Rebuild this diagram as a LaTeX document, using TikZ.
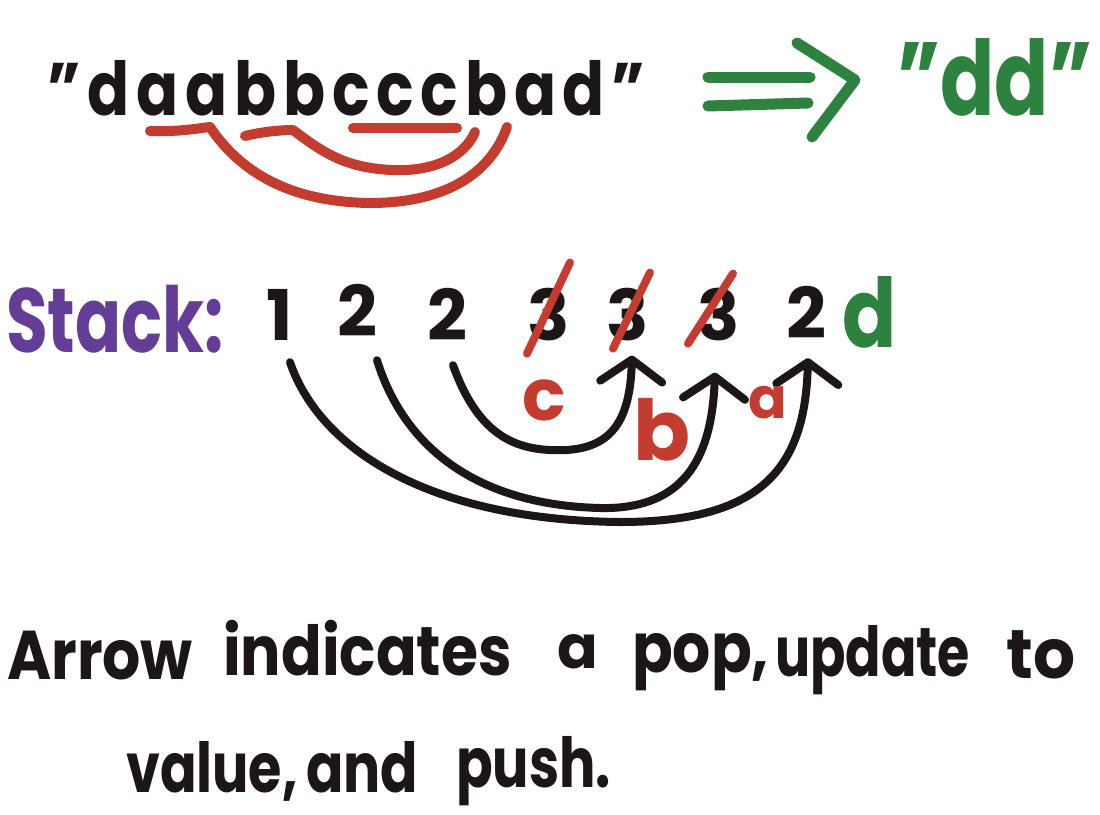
\documentclass[tikz,border=0pt]{standalone}
\usepackage{fontspec}
\setmainfont{Poppins}
\usetikzlibrary{arrows.meta}
\definecolor{ink}{RGB}{28,22,22}
\definecolor{redm}{RGB}{196,60,48}
\definecolor{greenm}{RGB}{44,130,62}
\definecolor{purplem}{RGB}{100,62,150}
\tikzset{
  txt/.style={anchor=base west, inner sep=0pt, text=ink, font=\fontsize{60}{60}\selectfont\bfseries},
  stk/.style={anchor=base, inner sep=0pt, text=ink, font=\fontsize{70}{70}\selectfont\bfseries},
  lbl/.style={anchor=base, inner sep=0pt, text=redm},
  pen/.style={line width=#1, line cap=round, line join=round},
  popline/.style={pen=8pt, draw=ink, -{Straight Barb[length=22pt,width=62pt,round]}},
  redpen/.style={pen=10pt, draw=redm},
  greenpen/.style={pen=11pt, draw=greenm},
  strike/.style={pen=8pt, draw=redm}
}
\begin{document}
\begin{tikzpicture}[x=1pt,y=-1pt]
\useasboundingbox[fill=white] (0,0) rectangle (1100,814);

% source string and result
\node[txt, font=\fontsize{62}{62}\selectfont\bfseries\addfontfeature{LetterSpace=11}] (src) at (47,115) {\scalebox{1}[1.2]{"daabbcccbad"}};
\node[txt, text=greenm, font=\fontsize{80}{80}\selectfont\bfseries] (dst) at (897,115) {\scalebox{1}[1.3]{"dd"}};

% implication arrow
\draw[greenpen] (708,77) -- (810,77);
\draw[greenpen] (708,106) -- (808,103);
\draw[greenpen] (797,43) -- (855,80) -- (812,137);

% red brackets under the removed pairs
\draw[redpen] (150,131) .. controls (180,132) and (200,128) .. (210,127)
  .. controls (240,172) and (290,202) .. (370,203)
  .. controls (450,203) and (492,170) .. (507,127);
\draw[redpen] (245,136) .. controls (265,131) and (285,130) .. (293,130)
  .. controls (322,152) and (345,168) .. (392,170)
  .. controls (437,172) and (465,155) .. (475,132);
\draw[redpen] (353,128) -- (457,128);

% stack
\node[txt, text=purplem, font=\fontsize{70}{70}\selectfont\bfseries] (stacklbl) at (6,352) {\scalebox{0.97}[1.3]{Stack:}};
\node[stk] (n1) at (280,340) {1};
\node[stk] (n2) at (357,336) {2};
\node[stk] (n3) at (447,340) {2};
\node[stk] (n4) at (549,340) {3};
\node[stk] (n5) at (628,340) {3};
\node[stk] (n6) at (719,340) {3};
\node[stk] (n7) at (806,338) {2};
\node[stk, text=greenm, font=\fontsize{80}{80}\selectfont\bfseries] (n8) at (870,347) {\scalebox{1}[1.2]{d}};

% strike-outs
\draw[strike] ([xshift=-22pt,yshift=-13pt]n4.south) -- ([xshift=21pt,yshift=78pt]n4.south);
\draw[strike] ([xshift=-15pt,yshift=-8pt]n5.south) -- ([xshift=22pt,yshift=68pt]n5.south);
\draw[strike] ([xshift=-31pt,yshift=-3pt]n6.south) -- ([xshift=14pt,yshift=67pt]n6.south);

% pop arrows
\draw[popline] ([xshift=6pt,yshift=-25pt]n3.south) .. controls (480,440) and (520,452) .. (567,450)
  .. controls (612,447) and (630,420) .. ([xshift=4pt,yshift=-15pt]n5.south);
\draw[popline] ([xshift=20pt,yshift=-24pt]n2.south) .. controls (405,450) and (480,505) .. (600,508)
  .. controls (690,510) and (712,450) .. ([xshift=-4pt,yshift=-32pt]n6.south);
\draw[popline] ([xshift=10pt,yshift=-22pt]n1.south) .. controls (320,450) and (430,520) .. (620,522)
  .. controls (760,522) and (805,470) .. ([xshift=2pt,yshift=-20pt]n7.south);

\node[lbl, font=\fontsize{72}{72}\selectfont\bfseries] (lc) at (544,420) {c};
\node[lbl, font=\fontsize{84}{84}\selectfont\bfseries] (lb) at (662,460) {b};
\node[lbl, font=\fontsize{57}{57}\selectfont\bfseries] (la) at (768,418) {a};

% caption
\node[txt] (w1) at (7,679) {\scalebox{1}[1.15]{Arrow}};
\node[txt] (w2) at (223,675) {\scalebox{1}[1.15]{indicates}};
\node[txt] (w3) at (557,668) {a};
\node[txt] (w4) at (632,672) {\scalebox{1}[1.15]{pop,}};
\node[txt] (w5) at (775,676) {\scalebox{0.87}[1.15]{update}};
\node[txt] (w6) at (1006,678) {\scalebox{1.1}[1.15]{to}};
\node[txt] (w7) at (126,792) {\scalebox{0.9}[1.15]{value,}};
\node[txt] (w8) at (306,792) {\scalebox{0.92}[1.15]{and}};
\node[txt] (w9) at (456,787) {\scalebox{0.9}[1.15]{push.}};
\end{tikzpicture}
\end{document}
